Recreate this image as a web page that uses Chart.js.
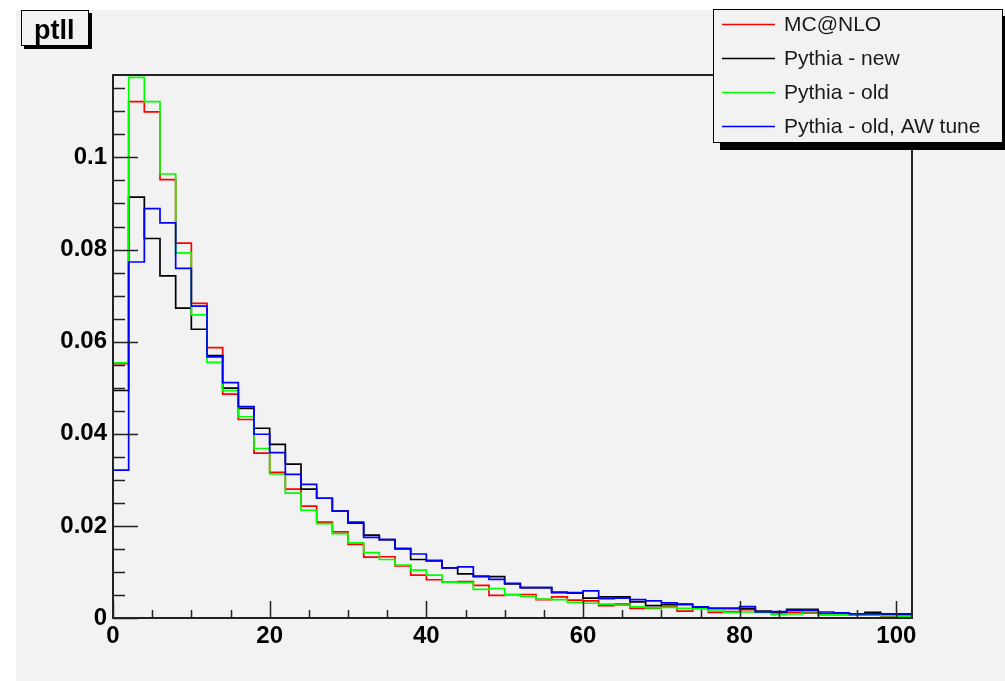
<!DOCTYPE html>
<html>
<head>
<meta charset="utf-8">
<title>ptll</title>
<script src="https://cdn.jsdelivr.net/npm/chart.js@4.4.1/dist/chart.umd.min.js"></script>
<style>
  html, body { margin: 0; padding: 0; background: #ffffff; }
  #chartBox { width: 1005px; height: 681px; }
</style>
</head>
<body>
<div id="chartBox"><canvas id="ptllChart" width="1005" height="681"></canvas></div>
<script>
// histogram: 51 bins of width 2, from 0 to 102
const binWidth = 2;

const mcNlo = [
  0.0552, 0.1121, 0.1099, 0.0952, 0.0814, 0.0683, 0.0587, 0.0486, 0.0431, 0.0358,
  0.0316, 0.0280, 0.0243, 0.0208, 0.0187, 0.0160, 0.0132, 0.0133, 0.0113, 0.0093,
  0.0083, 0.0078, 0.0079, 0.0071, 0.0049, 0.0051, 0.0051, 0.0040, 0.0046, 0.0039,
  0.0037, 0.0027, 0.0030, 0.0021, 0.0021, 0.0025, 0.0015, 0.0022, 0.0012, 0.0014,
  0.0018, 0.0013, 0.0011, 0.0011, 0.0011, 0.0009, 0.0009, 0.0007, 0.0006, 0.0002, 0.0002
];
const pythiaNew = [
  0.0494, 0.0914, 0.0824, 0.0743, 0.0673, 0.0627, 0.0570, 0.0499, 0.0455, 0.0412,
  0.0377, 0.0334, 0.0280, 0.0260, 0.0232, 0.0206, 0.0180, 0.0170, 0.0150, 0.0127,
  0.0124, 0.0109, 0.0096, 0.0090, 0.0090, 0.0074, 0.0066, 0.0066, 0.0055, 0.0054,
  0.0043, 0.0046, 0.0046, 0.0035, 0.0027, 0.0029, 0.0030, 0.0023, 0.0021, 0.0021,
  0.0021, 0.0015, 0.0013, 0.0019, 0.0019, 0.0008, 0.0008, 0.0007, 0.0012, 0.0008, 0.0007
];
const pythiaOld = [
  0.0554, 0.1174, 0.1121, 0.0964, 0.0793, 0.0658, 0.0555, 0.0494, 0.0437, 0.0368,
  0.0313, 0.0271, 0.0234, 0.0205, 0.0183, 0.0163, 0.0142, 0.0127, 0.0115, 0.0104,
  0.0093, 0.0078, 0.0077, 0.0062, 0.0064, 0.0050, 0.0047, 0.0041, 0.0040, 0.0034,
  0.0032, 0.0030, 0.0028, 0.0024, 0.0022, 0.0023, 0.0021, 0.0020, 0.0015, 0.0012,
  0.0013, 0.0012, 0.0008, 0.0009, 0.0014, 0.0007, 0.0007, 0.0007, 0.0007, 0.0005, 0.0004
];
const pythiaOldAW = [
  0.0321, 0.0773, 0.0889, 0.0858, 0.0759, 0.0677, 0.0567, 0.0511, 0.0459, 0.0399,
  0.0359, 0.0312, 0.0290, 0.0260, 0.0232, 0.0208, 0.0175, 0.0170, 0.0151, 0.0139,
  0.0125, 0.0109, 0.0111, 0.0091, 0.0084, 0.0075, 0.0066, 0.0066, 0.0056, 0.0055,
  0.0059, 0.0042, 0.0043, 0.0040, 0.0037, 0.0033, 0.0029, 0.0024, 0.0021, 0.0021,
  0.0025, 0.0013, 0.0014, 0.0016, 0.0017, 0.0013, 0.0011, 0.0009, 0.0009, 0.0009, 0.0009
];

const seriesNames = ["MC@NLO", "Pythia - new", "Pythia - old", "Pythia - old, AW tune"];
const seriesColors = ["#ff0000", "#000000", "#00ff00", "#0000ff"];

const xTicks = [0, 20, 40, 60, 80, 100];
const xTickLabels = ["0", "20", "40", "60", "80", "100"];
const yTicks = [0, 0.02, 0.04, 0.06, 0.08, 0.1];
const yTickLabels = ["0", "0.02", "0.04", "0.06", "0.08", "0.1"];

const xMax = 102;
const yMax = 0.1179;
const padGrey = "#f2f2f2";
const tickFont = { family: "'Liberation Sans', Arial, sans-serif", size: 24, weight: "bold" };

// each bin value held from its low edge to the next one
function toSteps(values) {
  const pts = values.map((v, i) => ({ x: i * binWidth, y: v }));
  pts.push({ x: values.length * binWidth, y: values[values.length - 1] });
  return pts;
}

const allSeries = [mcNlo, pythiaNew, pythiaOld, pythiaOldAW];

const datasets = allSeries.map((vals, i) => ({
  label: seriesNames[i],
  data: toSteps(vals),
  borderColor: seriesColors[i],
  borderWidth: 1.7,
  stepped: "before",
  pointRadius: 0,
  fill: false,
  order: allSeries.length - i, // later series drawn on top
}));

const rootStyle = {
  id: "rootStyle",
  beforeDraw(chart) {
    const ctx = chart.ctx;
    ctx.save();
    ctx.fillStyle = "#ffffff";
    ctx.fillRect(0, 0, chart.width, chart.height);
    ctx.fillStyle = padGrey;
    ctx.fillRect(16, 10, chart.width - 16, chart.height - 10);
    ctx.restore();
  },
  afterDraw(chart) {
    const ctx = chart.ctx;
    const area = chart.chartArea;
    const xs = chart.scales.x;
    const ys = chart.scales.y;
    ctx.save();

    // ticks drawn inside the frame
    ctx.strokeStyle = "#222222";
    ctx.lineWidth = 1.5;
    ctx.beginPath();
    for (let v = 0; v <= 100; v += 5) {
      const px = Math.round(xs.getPixelForValue(v)) + 0.5;
      const len = v % 20 === 0 ? 17 : 8;
      ctx.moveTo(px, area.bottom);
      ctx.lineTo(px, area.bottom - len);
    }
    for (let k = 0; k <= 23; k++) {
      const v = k * 0.005;
      const py = Math.round(ys.getPixelForValue(v)) + 0.5;
      const len = k % 4 === 0 ? 25 : 12;
      ctx.moveTo(area.left, py);
      ctx.lineTo(area.left + len, py);
    }
    ctx.stroke();

    // frame
    ctx.lineWidth = 2;
    ctx.strokeRect(area.left, area.top, area.right - area.left, area.bottom - area.top);

    // title box
    ctx.fillStyle = "#000000";
    ctx.fillRect(24, 13, 68, 36);
    ctx.fillStyle = padGrey;
    ctx.fillRect(21, 10, 68, 36);
    ctx.strokeStyle = "#000000";
    ctx.lineWidth = 1;
    ctx.strokeRect(21.5, 10.5, 67, 35);
    ctx.fillStyle = "#000000";
    ctx.font = "bold 27px 'Liberation Sans', Arial, sans-serif";
    ctx.textBaseline = "alphabetic";
    ctx.textAlign = "left";
    ctx.fillText("ptll", 34, 39);

    // legend box with shadow
    const lx = 713, ly = 9, lw = 290, lh = 134;
    ctx.fillStyle = "#000000";
    ctx.fillRect(lx + 7, ly + 7, lw, lh);
    ctx.fillStyle = padGrey;
    ctx.fillRect(lx, ly, lw, lh);
    ctx.strokeRect(lx + 0.5, ly + 0.5, lw - 1, lh - 1);
    ctx.font = "21px 'Liberation Sans', Arial, sans-serif";
    ctx.textBaseline = "middle";
    chart.data.datasets.forEach((ds, i) => {
      const cy = 24 + i * 34;
      ctx.strokeStyle = ds.borderColor;
      ctx.lineWidth = 1.3;
      ctx.beginPath();
      ctx.moveTo(722, cy + 0.5);
      ctx.lineTo(775, cy + 0.5);
      ctx.stroke();
      ctx.fillStyle = "#1a1a1a";
      ctx.fillText(ds.label, 784, cy + 1);
    });

    ctx.restore();
  },
};

new Chart(document.getElementById("ptllChart"), {
  type: "line",
  data: { datasets: datasets },
  options: {
    responsive: false,
    animation: false,
    layout: { padding: { top: 75, right: 93, left: 0, bottom: 0 } },
    plugins: {
      legend: { display: false },
      title: { display: false },
      tooltip: { enabled: false },
    },
    scales: {
      x: {
        type: "linear",
        min: 0,
        max: xMax,
        grid: { display: false, drawTicks: false },
        border: { display: false },
        afterBuildTicks: (scale) => {
          scale.ticks = xTicks.map((v) => ({ value: v }));
        },
        afterFit: (scale) => {
          scale.height = 63;
        },
        ticks: {
          autoSkip: false,
          maxRotation: 0,
          padding: 4,
          color: "#000000",
          font: tickFont,
          callback: (v, i) => xTickLabels[i],
        },
      },
      y: {
        type: "linear",
        min: 0,
        max: yMax,
        grid: { display: false, drawTicks: false },
        border: { display: false },
        afterBuildTicks: (scale) => {
          scale.ticks = yTicks.map((v) => ({ value: v }));
        },
        afterFit: (scale) => {
          scale.width = 113;
        },
        ticks: {
          autoSkip: false,
          padding: 6,
          color: "#000000",
          font: tickFont,
          callback: (v, i) => yTickLabels[i],
        },
      },
    },
  },
  plugins: [rootStyle],
});
</script>
</body>
</html>
